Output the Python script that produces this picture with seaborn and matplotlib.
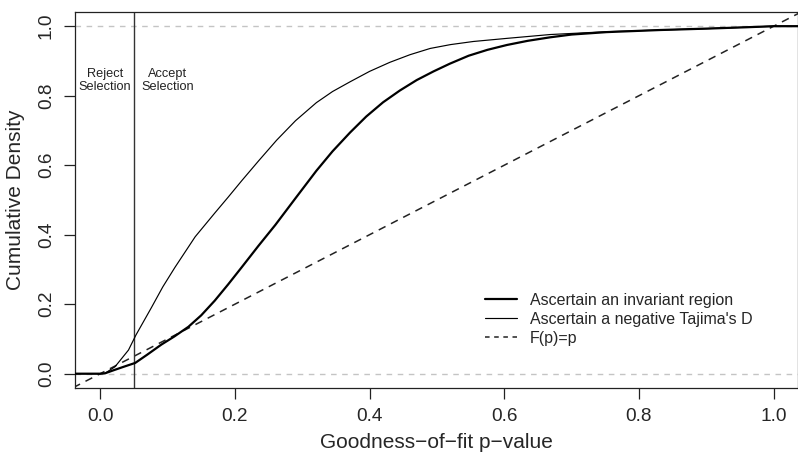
import matplotlib
matplotlib.use("Agg")
import matplotlib.pyplot as plt
import seaborn as sns
import pandas as pd

# ---- data ----
invariant_p = [-0.04, 0.0, 0.007, 0.02, 0.035, 0.052, 0.07, 0.091, 0.11, 0.131, 0.15,
               0.170, 0.19, 0.210, 0.235, 0.260, 0.290, 0.321, 0.345, 0.371, 0.395,
               0.420, 0.445, 0.470, 0.495, 0.519, 0.547, 0.575, 0.604, 0.635, 0.668,
               0.70, 0.752, 0.831, 0.90, 0.96, 1.00, 1.04]
invariant_cdf = [0.0, 0.0, 0.001, 0.01, 0.02, 0.031, 0.055, 0.084, 0.107, 0.135, 0.168,
                 0.210, 0.257, 0.306, 0.368, 0.428, 0.505, 0.584, 0.640, 0.694, 0.740,
                 0.781, 0.815, 0.845, 0.870, 0.892, 0.915, 0.932, 0.946, 0.958, 0.968,
                 0.976, 0.983, 0.989, 0.993, 0.997, 1.0, 1.0]

tajima_p = [-0.04, 0.0, 0.007, 0.022, 0.042, 0.053, 0.076, 0.093, 0.111, 0.141, 0.170,
            0.190, 0.210, 0.235, 0.262, 0.290, 0.321, 0.345, 0.371, 0.400, 0.430,
            0.460, 0.490, 0.520, 0.554, 0.604, 0.668, 0.75, 0.831, 0.90, 1.0, 1.04]
tajima_cdf = [0.0, 0.0, 0.001, 0.02, 0.068, 0.111, 0.190, 0.250, 0.306, 0.394, 0.462,
              0.508, 0.555, 0.612, 0.672, 0.728, 0.780, 0.812, 0.840, 0.870, 0.896,
              0.918, 0.936, 0.947, 0.956, 0.965, 0.976, 0.984, 0.989, 0.993, 1.0, 1.0]

ref_p = [-0.04, 1.04]
x_ticks = [0.0, 0.2, 0.4, 0.6, 0.8, 1.0]
y_ticks = [0.0, 0.2, 0.4, 0.6, 0.8, 1.0]
threshold = 0.05
labels = ["Ascertain an invariant region", "Ascertain a negative Tajima's D", "F(p)=p"]
xlabel = "Goodness\u2212of\u2212fit p\u2212value"
ylabel = "Cumulative Density"

sns.set_style("ticks")
plt.rcParams["font.family"] = ["Liberation Sans", "DejaVu Sans"]

fig = plt.figure(figsize=(7.98, 4.54), dpi=100)
ax = fig.add_axes([75 / 798, 66.4 / 454, 723 / 798, 375.3 / 454])

df_inv = pd.DataFrame({"p": invariant_p, "F": invariant_cdf})
df_taj = pd.DataFrame({"p": tajima_p, "F": tajima_cdf})
df_ref = pd.DataFrame({"p": ref_p, "F": ref_p})

# gray reference lines
for yy in (0.0, 1.0):
    ax.axhline(yy, color="#c4c4c4", lw=1.0, ls=(0, (4, 4)), zorder=1)

sns.lineplot(data=df_inv, x="p", y="F", ax=ax, color="black", lw=1.6,
             label=labels[0], sort=False, estimator=None, zorder=3)
sns.lineplot(data=df_taj, x="p", y="F", ax=ax, color="black", lw=0.85,
             label=labels[1], sort=False, estimator=None, zorder=3)
sns.lineplot(data=df_ref, x="p", y="F", ax=ax, color="#222222", lw=1.1,
             label=labels[2], sort=False, estimator=None, zorder=2)
ax.lines[-1].set_linestyle((0, (5, 4)))

ax.axvline(threshold, color="#333333", lw=1.0, zorder=2)

ax.text(0.007, 0.844, "Reject\nSelection", ha="center", va="center",
        fontsize=9.2, linespacing=1.2, color="#222222")
ax.text(0.1007, 0.844, "Accept\nSelection", ha="center", va="center",
        fontsize=9.2, linespacing=1.2, color="#222222")

ax.set_xlim(-0.0374, 1.0361)
ax.set_ylim(-0.04, 1.04)
ax.set_xticks(x_ticks)
ax.set_yticks(y_ticks)
ax.set_xticklabels([f"{v:.1f}" for v in x_ticks])
ax.set_yticklabels([f"{v:.1f}" for v in y_ticks], rotation=90, va="center")
ax.tick_params(axis="both", length=8, width=0.9, labelsize=13.7, pad=6.5, color="#222222")
ax.set_xlabel(xlabel, fontsize=15, labelpad=6)
ax.set_ylabel(ylabel, fontsize=15, labelpad=9)
for s in ax.spines.values():
    s.set_visible(True)
    s.set_linewidth(0.9)
    s.set_color("#222222")

leg = ax.legend(loc="upper left", bbox_to_anchor=(485 / 798, (454 - 293) / 454),
                bbox_transform=fig.transFigure, frameon=False, fontsize=11.5,
                handlelength=2.0, handletextpad=0.8, labelspacing=0.25,
                borderpad=0, borderaxespad=0)
leg.get_lines()[2].set_linestyle((0, (3, 3)))

fig.savefig("out.png", dpi=100)
